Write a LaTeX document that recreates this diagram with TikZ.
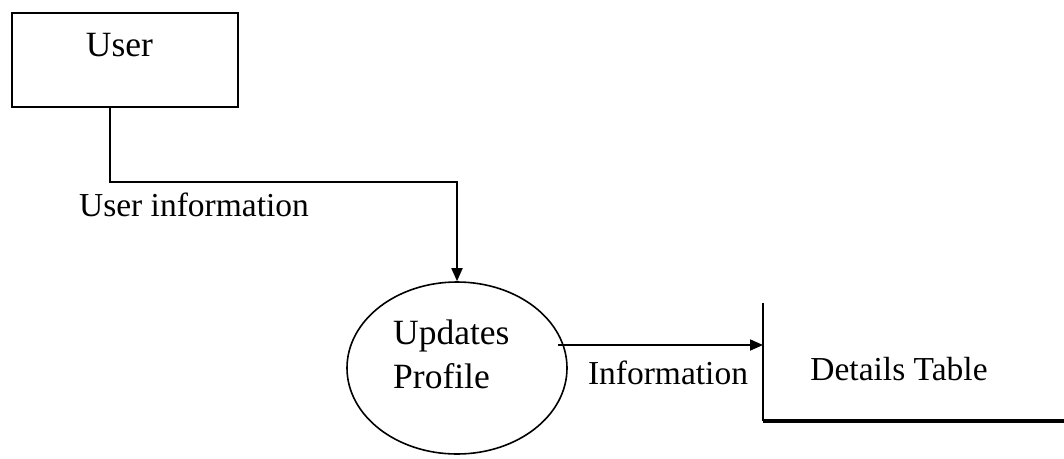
\documentclass[tikz,border=0pt]{standalone}
\usepackage{fontspec}
\setmainfont{Liberation Serif}
\usetikzlibrary{arrows.meta,shapes.geometric}
\begin{document}
\begin{tikzpicture}[x=1pt,y=-1pt,
  txt/.style={font=\fontsize{33.5}{40}\selectfont, inner sep=0pt},
  bigtxt/.style={font=\fontsize{35.5}{44}\selectfont, inner sep=0pt},
  entity/.style={draw, line width=2pt, minimum width=226pt, minimum height=94pt, inner sep=0pt},
  process/.style={draw, ellipse, line width=1.6pt, minimum width=220pt, minimum height=172pt, inner sep=0pt},
  flow/.style={line width=1.8pt, -{Triangle[length=13pt,width=11pt]}}]
  \useasboundingbox (0,0) rectangle (1064,458);

  % external entity
  \node[entity] (user) at (125,60) {};
  \node[bigtxt] (usertext) at (119.5,45) {User};

  % process bubble
  \node[process] (proc) at (457,368) {};
  \node[bigtxt, align=left, anchor=west] (proctext) at (393,354) {Updates\\Profile};

  % data store, open on top and right
  \coordinate (dstop) at (763,303);
  \coordinate (dsin) at (763,345);
  \coordinate (dscorner) at (763,421);
  \coordinate (dsend) at (1064,421);
  \draw[line width=2pt] (dstop) -- (dscorner);
  \draw[line width=4pt] (dscorner) -- (dsend);
  \node[txt] (dstext) at (899,369) {Details Table};

  % data flows
  \draw[flow] ([xshift=-15pt]user.south) -- ++(0,-74pt) -| (proc.north);
  \node[txt] (uinfo) at (194,205) {User information};

  \draw[flow] ([xshift=-10pt]proc.east |- dsin) -- (dsin);
  \node[txt] (info) at (668,373) {Information};
\end{tikzpicture}
\end{document}
